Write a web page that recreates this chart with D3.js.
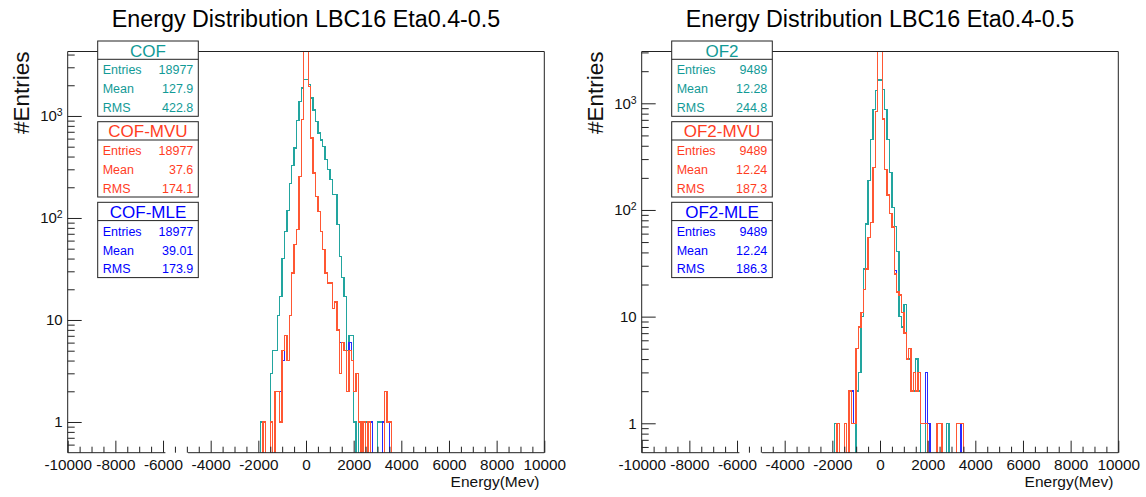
<!DOCTYPE html>
<html>
<head>
<meta charset="utf-8">
<script src="https://cdn.jsdelivr.net/npm/d3@7"></script>
<style>
  html, body { margin: 0; padding: 0; background: #fff; }
  svg { display: block; font-family: "Liberation Sans", Arial, Helvetica, sans-serif; }
</style>
</head>
<body>
<svg id="chart" width="1146" height="497"></svg>
<script>
// Histogram binning: 100 MeV bins, first array entry is the bin starting at -2000 MeV
const binWidth = 100;
const firstEdge = -2000;

// Left panel: COF / COF-MVU / COF-MLE bin contents
const cofCounts = [0,1,0,0,0,3,5,5,11,17,40,74,119,217,326,486,899,1390,1880,2270,
  2270,2027,1500,1140,885,681,580,504,373,297,237,169,169,86,42,26,17,5,7,7,
  1,0,1,0,0,1,0,0,0,0,1,1,0,0,0,0,0];
const cofMvuCounts = [0,0,1,0,0,1,0,2,2,1,5,7,4,11,29,55,77,256,920,5500,
  6720,1950,608,276,163,116,74,49,29,23,23,13,15,8,3,6,5,2,5,4,
  2,3,1,0,1,0,1,0,0,0,0,0,0,2,1,1,0];
const cofMleCounts = [0,0,1,0,0,1,0,2,2,2,4,7,4,11,29,55,77,256,920,5480,
  6700,1950,608,276,163,116,74,49,29,23,23,13,15,8,6,6,5,2,6,4,
  2,3,1,1,1,0,1,1,0,0,0,0,1,2,1,0,0];

// Right panel: OF2 / OF2-MVU / OF2-MLE bin contents
const of2Counts = [0,1,0,0,0,0,0,0,0,0,2,3,10,28,74,188,460,878,1312,1650,
  1650,1353,878,460,224,106,70,41,10,8,13,4,4,2,2,4,2,0,0,1,
  0,0,0,0,0,0,0,0,1,0,0,0,0,0,0,0,0];
const of2MvuCounts = [0,0,1,0,0,1,0,2,1,1,5,8,11,18,28,55,76,249,834,3345,
  3498,713,240,138,93,69,25,17,16,11,7,4,5,2,3,2,3,1,1,1,
  0,0,0,0,1,1,0,0,0,0,0,0,1,1,1,0,0];
const of2MleCounts = [0,0,1,0,0,1,0,2,2,1,5,8,11,18,28,55,76,249,834,3340,
  3500,713,240,138,93,69,27,17,16,11,7,4,5,2,3,2,3,1,1,3,
  1,0,0,0,1,1,0,0,0,0,0,0,1,1,0,0,0];

// Series names and statistics boxes
const leftNames = ["COF", "COF-MVU", "COF-MLE"];
const rightNames = ["OF2", "OF2-MVU", "OF2-MLE"];
const statLabels = ["Entries", "Mean", "RMS"];
const leftStats = [["18977", "127.9", "422.8"], ["18977", "37.6", "174.1"], ["18977", "39.01", "173.9"]];
const rightStats = [["9489", "12.28", "244.8"], ["9489", "12.24", "187.3"], ["9489", "12.24", "186.3"]];

// Axis ticks and labels
const xMajorTicks = [-10000,-8000,-6000,-4000,-2000,0,2000,4000,6000,8000,10000];
const xMinorStep = 500;
const yMajorTicks = [1, 10, 100, 1000];
const xDomain = [-10000, 10000];
const leftYDomain = [0.5, 4285];
const rightYDomain = [0.53, 3060];
const titleText = "Energy Distribution LBC16 Eta0.4-0.5";
const xTitle = "Energy(Mev)";
const yTitle = "#Entries";
// the bottom axis line is broken over this energy interval
const axisBreak = [-5900, -4950];

const seriesColors = ["#22a59f", "#2a2aff", "#ff5733"];   // line colours: first, MLE, MVU
const textColors = ["#129a96", "#ff3d1f", "#0000ff"];     // stat box colours in legend order

const svg = d3.select("#chart");
const frameTop = 51.5, frameBottom = 452.7;

const panels = [
  { x0: 67.7, x1: 544.3, yDomain: leftYDomain, names: leftNames, stats: leftStats,
    series: [cofCounts, cofMleCounts, cofMvuCounts], id: "L" },
  { x0: 641.7, x1: 1118.3, yDomain: rightYDomain, names: rightNames, stats: rightStats,
    series: [of2Counts, of2MleCounts, of2MvuCounts], id: "R" }
];

const ink = "#222";

panels.forEach(p => {
  const x = d3.scaleLinear().domain(xDomain).range([p.x0, p.x1]);
  const y = d3.scaleLog().domain(p.yDomain).range([frameBottom, frameTop]);
  const g = svg.append("g");

  // clip for the histogram outlines
  const clipId = "clip" + p.id;
  svg.append("clipPath").attr("id", clipId).append("rect")
    .attr("x", p.x0).attr("y", frameTop).attr("width", p.x1 - p.x0).attr("height", frameBottom - frameTop);

  // histogram step outlines
  const line = d3.line().x(d => x(d[0])).y(d => d[1]).curve(d3.curveStepAfter);
  p.series.forEach((counts, si) => {
    const yv = c => c > 0 ? y(c) : frameBottom + 2;
    const pts = [[firstEdge, frameBottom + 2]];
    counts.forEach((c, i) => pts.push([firstEdge + i * binWidth, yv(c)]));
    const lastEdge = firstEdge + counts.length * binWidth;
    pts.push([lastEdge, yv(counts[counts.length - 1])]);
    pts.push([lastEdge, frameBottom + 2]);
    g.append("path")
      .attr("clip-path", `url(#${clipId})`)
      .attr("d", line(pts))
      .attr("fill", "none")
      .attr("stroke", seriesColors[si])
      .attr("stroke-width", 1.4)
      .attr("shape-rendering", "crispEdges");
  });

  // x axis: major and minor ticks pointing into the frame
  const gx = g.append("g").attr("transform", `translate(0,${frameBottom})`)
    .call(d3.axisBottom(x).tickValues(xMajorTicks).tickSize(-12).tickPadding(6.5)
      .tickFormat(d => String(d)));
  gx.select(".domain").remove();
  gx.attr("font-family", null).attr("font-size", null);
  gx.selectAll(".tick line").attr("stroke", ink);
  gx.selectAll(".tick text").attr("fill", "#111").style("font-size", "15.3px");

  const xMinor = d3.range(xDomain[0], xDomain[1] + 1, xMinorStep).filter(v => !xMajorTicks.includes(v));
  const gxm = g.append("g").attr("transform", `translate(0,${frameBottom})`)
    .call(d3.axisBottom(x).tickValues(xMinor).tickSize(-6).tickFormat(""));
  gxm.select(".domain").remove();
  gxm.selectAll(".tick line").attr("stroke", ink);

  // y axis (log): decades labelled, 2..9 minor ticks
  const gy = g.append("g").attr("transform", `translate(${p.x0},0)`)
    .call(d3.axisLeft(y).tickValues(yMajorTicks).tickSize(-14).tickPadding(5).tickFormat(""));
  gy.select(".domain").remove();
  gy.attr("font-family", null).attr("font-size", null);
  gy.selectAll(".tick line").attr("stroke", ink);
  gy.selectAll(".tick text").each(function(d) {
    const t = d3.select(this).attr("fill", "#111").style("font-size", "15px");
    const exp = Math.round(Math.log10(d));
    if (exp < 2) {
      t.text(String(d));
    } else {
      t.append("tspan").text("10");
      t.append("tspan").attr("dy", "-0.48em").style("font-size", "10.5px").text(String(exp));
    }
  });

  const yMinor = [];
  for (let e = -1; e <= 4; e++) {
    for (let k = 2; k <= 9; k++) {
      const v = k * Math.pow(10, e);
      if (v > p.yDomain[0] && v < p.yDomain[1]) yMinor.push(v);
    }
  }
  const gym = g.append("g").attr("transform", `translate(${p.x0},0)`)
    .call(d3.axisLeft(y).tickValues(yMinor).tickSize(-7).tickFormat(""));
  gym.select(".domain").remove();
  gym.selectAll(".tick line").attr("stroke", ink);

  // frame
  const frame = g.append("g").attr("stroke", ink).attr("stroke-width", 1).attr("fill", "none");
  frame.append("line").attr("x1", p.x0).attr("x2", p.x0).attr("y1", frameTop).attr("y2", frameBottom);
  frame.append("line").attr("x1", p.x1).attr("x2", p.x1).attr("y1", frameTop).attr("y2", frameBottom);
  frame.append("line").attr("x1", p.x0).attr("x2", p.x1).attr("y1", frameTop).attr("y2", frameTop);
  frame.append("line").attr("x1", p.x0).attr("x2", x(axisBreak[0])).attr("y1", frameBottom).attr("y2", frameBottom);
  frame.append("line").attr("x1", x(axisBreak[1])).attr("x2", p.x1).attr("y1", frameBottom).attr("y2", frameBottom);

  // titles
  svg.append("text").attr("x", (p.x0 + p.x1) / 2).attr("y", 27)
    .attr("text-anchor", "middle").style("font-size", "23.3px").attr("fill", "#000")
    .text(titleText);
  svg.append("text").attr("x", p.x1 - 5).attr("y", 486.5)
    .attr("text-anchor", "end").style("font-size", "15.5px").attr("fill", "#111")
    .text(xTitle);
  svg.append("text").attr("transform", `translate(${p.x0 - 39.2},${frameTop}) rotate(-90)`)
    .attr("text-anchor", "end").style("font-size", "22.5px").attr("fill", "#111")
    .text(yTitle);

  // statistics boxes
  const boxX = p.x0 + 30, boxW = 100.6, boxH = 75.3, headH = 18.3;
  const boxTops = [41, 121.7, 202.3];
  p.names.forEach((name, bi) => {
    const top = boxTops[bi];
    const col = textColors[bi];
    const b = svg.append("g");
    b.append("rect").attr("x", boxX).attr("y", top).attr("width", boxW).attr("height", boxH)
      .attr("fill", "#fff").attr("stroke", ink).attr("stroke-width", 1);
    b.append("line").attr("x1", boxX).attr("x2", boxX + boxW).attr("y1", top + headH).attr("y2", top + headH)
      .attr("stroke", ink).attr("stroke-width", 1);
    b.append("text").attr("x", boxX + boxW / 2).attr("y", top + 15.6)
      .attr("text-anchor", "middle").style("font-size", "17px").attr("fill", col).text(name);
    const rowY = [33.4, 52.4, 71.1];
    statLabels.forEach((lab, ri) => {
      b.append("text").attr("x", boxX + 5).attr("y", top + rowY[ri])
        .style("font-size", "12.5px").attr("fill", col).text(lab);
      b.append("text").attr("x", boxX + boxW - 5).attr("y", top + rowY[ri])
        .attr("text-anchor", "end").style("font-size", "12.5px").attr("fill", col).text(p.stats[bi][ri]);
    });
  });
});
</script>
</body>
</html>
